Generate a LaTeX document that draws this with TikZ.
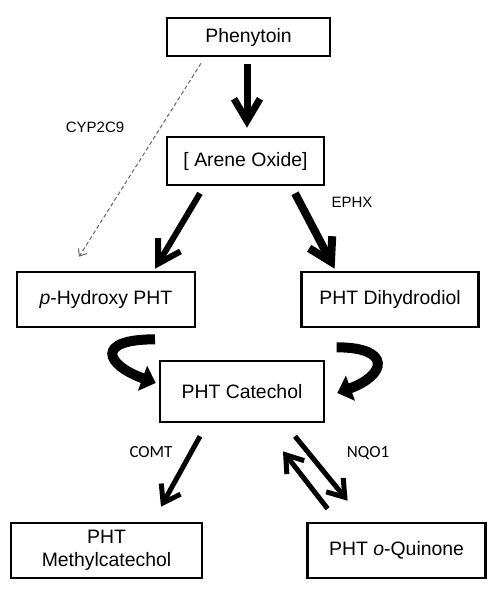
\documentclass[tikz,border=0pt]{standalone}
\usepackage{fontspec}
\setmainfont{Liberation Sans}
\newfontfamily\calibrifont{Carlito}
\usetikzlibrary{arrows.meta, positioning}
\tikzstyle{compound} = [rectangle, draw=black, line width=1.3pt, inner sep=2pt, align=center, font=\fontsize{9.7}{11.5}\selectfont]
\tikzstyle{enzyme} = [inner sep=0pt, font=\fontsize{7.5}{9}\selectfont]
\tikzstyle{enzymeb} = [inner sep=0pt, font=\calibrifont\fontsize{8.5}{10}\selectfont]
\tikzstyle{arrow} = [line width=3.5pt, -{Straight Barb[length=11pt,width=13pt]}]
\tikzstyle{thinarrow} = [line width=2.5pt, -{Straight Barb[length=8pt,width=11pt]}]
\tikzstyle{dasharrow} = [dash pattern=on 2pt off 1.3pt, draw=black!60, line width=0.5pt, -{Straight Barb[length=3pt,width=5pt]}]
\tikzstyle{curvedarrow} = [line width=5pt, -{Triangle[length=7pt,width=13pt]}]

\begin{document}
\begin{tikzpicture}[x=0.5pt, y=-0.5pt]
\useasboundingbox (0,0) rectangle (500,595);

\node (phen) [compound, minimum width=81.5pt, minimum height=19pt] at (248.5,37) {Phenytoin};

\node (arene) [compound, minimum width=78.5pt, minimum height=24pt, below=39.2pt of phen, xshift=-1.5pt] {[ Arene Oxide]};

\node (hydroxy) [compound, minimum width=89pt, minimum height=27.5pt] at (106,299.5) {\textit{p}-Hydroxy PHT};
\node (dihydro) [compound, minimum width=88.5pt, minimum height=27.5pt, right=52pt of hydroxy] {PHT Dihydrodiol};

\node (catechol) [compound, minimum width=82pt, minimum height=30.5pt] at (242,391.5) {PHT Catechol};

\node (methyl) [compound, minimum width=95.5pt, minimum height=27.5pt] at (106.5,550.5) {PHT\\Methylcatechol};
\node (quinone) [compound, minimum width=89pt, minimum height=27.5pt, right=51.5pt of methyl] {PHT \textit{o}-Quinone};

\node (cyp) [enzyme] at (95,127) {CYP2C9};
\node (ephx) [enzyme] at (352,202) {EPHX};
\node (comt) [enzymeb] at (151,452) {COMT};
\node (nqo) [enzymeb] at (368,453) {NQO1};

\draw [arrow] ([xshift=-0.75pt,yshift=-3.5pt]phen.south) -- ([xshift=0.75pt,yshift=4pt]arene.north);
\draw [dasharrow] ([xshift=-23.75pt,yshift=-3pt]phen.south) -- ([xshift=-13.5pt,yshift=7pt]hydroxy.north);
\draw [arrow, line width=3pt] ([xshift=-22.75pt,yshift=-3.5pt]arene.south) -- ([xshift=24.5pt,yshift=1pt]hydroxy.north);
\draw [arrow, line width=4pt] ([xshift=24.75pt,yshift=-3.5pt]arene.south) -- ([xshift=-27.75pt,yshift=1pt]dihydro.north);

\draw [curvedarrow] ([xshift=24.5pt,yshift=-5.5pt]hydroxy.south) .. controls +(180:30pt) and +(160:27pt) .. ([xshift=-1.5pt,yshift=4.25pt]catechol.west);
\draw [curvedarrow] ([xshift=-26.75pt,yshift=-9.5pt]dihydro.south) .. controls +(0:28pt) and +(20:26pt) .. ([xshift=6pt,yshift=-0.75pt]catechol.east);

\draw [thinarrow] ([xshift=-21pt,yshift=-6.5pt]catechol.south) -- ([xshift=27.25pt,yshift=7.5pt]methyl.north);
\draw [thinarrow] ([xshift=26.5pt,yshift=-6.5pt]catechol.south) -- ([xshift=-24.5pt,yshift=10.5pt]quinone.north);
\draw [thinarrow] ([xshift=-34.5pt,yshift=6.5pt]quinone.north) -- ([xshift=20.5pt,yshift=-14pt]catechol.south);
\end{tikzpicture}
\end{document}
